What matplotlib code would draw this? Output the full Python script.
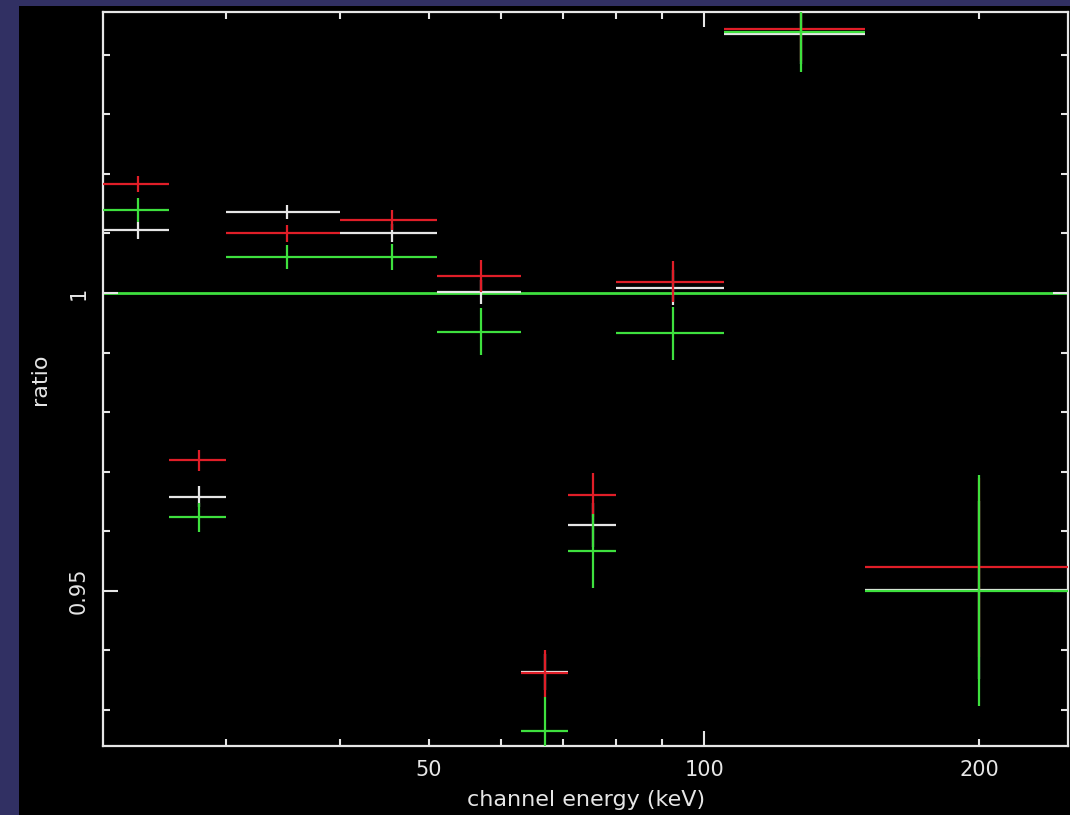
import numpy as np
import matplotlib
matplotlib.use('Agg')
import matplotlib.pyplot as plt
from matplotlib.patches import Rectangle
from matplotlib.ticker import FixedLocator, MultipleLocator, FuncFormatter

# energy bins (keV)
e_lo = np.array([22, 26, 30, 40, 51, 63, 71, 80, 105, 150])
e_hi = np.array([26, 30, 40, 51, 63, 71, 80, 105, 150, 250])
e_mid = np.array([24, 28, 35, 45.5, 57, 67, 75.5, 92.5, 127.5, 200])

# data / model ratios for the three spectra
ratio_white = [1.0105, 0.9658, 1.0136, 1.0101, 1.0001, 0.93628, 0.9611, 1.0009, 1.0435, 0.9501]
err_white = [0.0015, 0.0017, 0.0012, 0.0015, 0.0020, 0.0030, 0.0037, 0.0029, 0.0050, 0.0150]
ratio_red = [1.0183, 0.9719, 1.0100, 1.0123, 1.0029, 0.93608, 0.9661, 1.0019, 1.0444, 0.9539]
err_red = [0.0014, 0.0018, 0.0014, 0.0017, 0.0027, 0.0040, 0.0037, 0.0034, 0.0055, 0.0150]
ratio_green = [1.0140, 0.9623, 1.0061, 1.0061, 0.9935, 0.9264, 0.9566, 0.9932, 1.0439, 0.9500]
err_green = [0.0020, 0.0025, 0.0020, 0.0022, 0.0039, 0.0058, 0.0062, 0.0045, 0.0067, 0.0194]

fg = '#e6e6e6'
red = '#e01e28'
green = '#3ee03e'

fig = plt.figure(figsize=(10.7, 8.15), dpi=100, facecolor='#313063')
fig.add_artist(Rectangle((19 / 1070, 0), 1, 1 - 6 / 815, transform=fig.transFigure,
                         facecolor='black', edgecolor='none', zorder=-10))

ax = fig.add_axes([103 / 1070, 1 - 746 / 815, 965 / 1070, 734 / 815])
ax.set_facecolor('black')

ax.set_xscale('log')
ax.set_xlim(22, 250)
ax.set_ylim(0.9239, 1.0472)

# model line
ax.axhline(1.0, color=green, lw=2, zorder=1)

xerr = [e_mid - e_lo, e_hi - e_mid]
for vals, errs, col in [(ratio_white, err_white, fg),
                        (ratio_red, err_red, red),
                        (ratio_green, err_green, green)]:
    ax.errorbar(e_mid, vals, xerr=xerr, yerr=errs, fmt='none',
                ecolor=col, elinewidth=1.6, capsize=0, zorder=3)

for s in ax.spines.values():
    s.set_color(fg)
    s.set_linewidth(1.6)

# x axis: long tick at 100, short ticks elsewhere, labels at 50/100/200
ax.xaxis.set_major_locator(FixedLocator([100]))
ax.xaxis.set_minor_locator(FixedLocator([30, 40, 50, 60, 70, 80, 90, 200]))
ax.xaxis.set_major_formatter(FuncFormatter(lambda v, p: '%g' % v))
ax.xaxis.set_minor_formatter(FuncFormatter(lambda v, p: '%g' % v if v in (50, 200) else ''))

ax.yaxis.set_major_locator(MultipleLocator(0.05))
ax.yaxis.set_minor_locator(MultipleLocator(0.01))
ax.yaxis.set_major_formatter(FuncFormatter(lambda v, p: '%g' % round(v, 3)))

ax.tick_params(which='both', direction='in', top=True, right=True, colors=fg,
               labelsize=15, width=1.5, pad=10)
ax.tick_params(which='major', length=11)
ax.tick_params(which='minor', length=5)
for lab in ax.get_yticklabels():
    lab.set_rotation(90)
    lab.set_va('center')

fig.text(586 / 1070, 1 - 800 / 815, 'channel energy (keV)', color=fg, fontsize=16,
         ha='center', va='center')
fig.text(40 / 1070, 1 - 379 / 815, 'ratio', color=fg, fontsize=16,
         rotation=90, ha='center', va='center')

fig.savefig('out.png', dpi=100, facecolor=fig.get_facecolor())
